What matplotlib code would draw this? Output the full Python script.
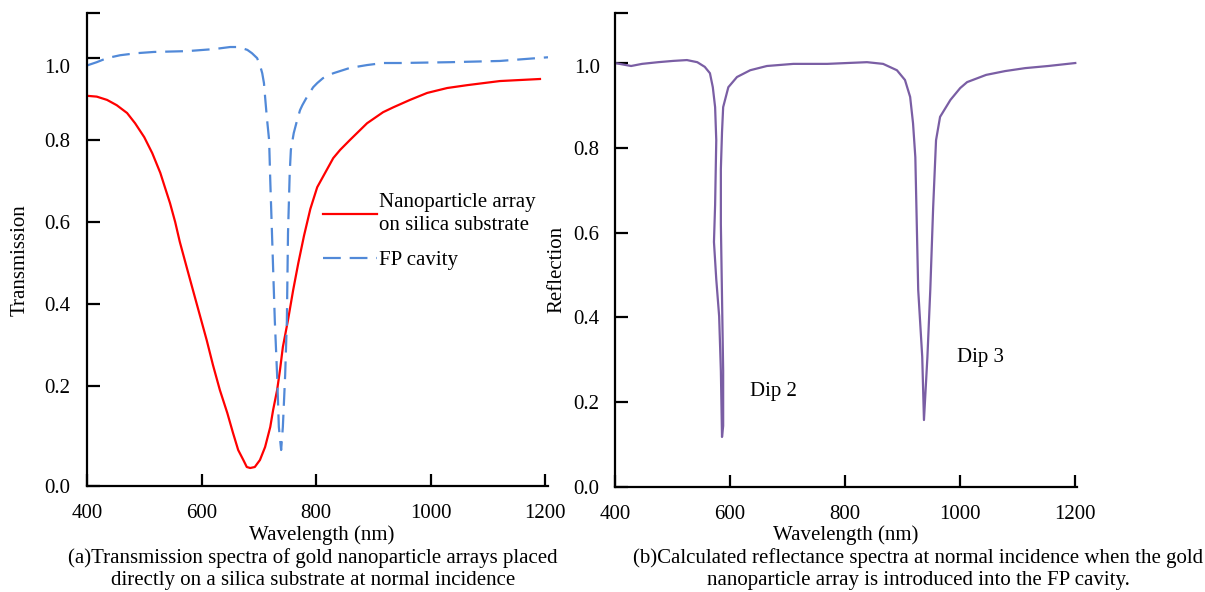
import numpy as np
import matplotlib
matplotlib.use("Agg")
import matplotlib.pyplot as plt
from matplotlib.transforms import ScaledTranslation

plt.rcParams['font.family'] = ['Liberation Serif', 'DejaVu Serif']

# ---------------- data: panel (a) ----------------
wl_np = [400, 417, 435, 452, 470, 484, 500, 514, 528, 536, 545, 554, 562, 575,
         585, 597, 609, 620, 632, 645, 655, 664, 673, 679, 685, 693, 702, 711,
         720, 725, 732, 737, 742, 751, 760, 769, 779, 790, 802, 830, 842, 859,
         889, 917, 935, 964, 994, 1029, 1064, 1121, 1191]
T_np = [0.908, 0.906, 0.898, 0.885, 0.866, 0.841, 0.807, 0.768, 0.72, 0.685,
        0.646, 0.60, 0.552, 0.485, 0.434, 0.373, 0.312, 0.251, 0.192, 0.146,
        0.106, 0.072, 0.052, 0.038, 0.036, 0.038, 0.052, 0.078, 0.118, 0.152,
        0.192, 0.239, 0.295, 0.361, 0.434, 0.50, 0.567, 0.632, 0.685, 0.756,
        0.776, 0.80, 0.841, 0.868, 0.88, 0.898, 0.915, 0.927, 0.934, 0.944,
        0.949]

wl_fp = [400, 417, 435, 458, 487, 517, 575, 622, 650, 665, 680, 688, 697, 702,
         706, 709, 711, 714, 718, 720, 723, 728, 732, 735, 739, 742, 746, 749,
         751, 754, 756, 761, 767, 772, 776, 784, 795, 802, 812, 830, 859, 889,
         917, 947, 1034, 1121, 1205]
T_fp = [0.982, 0.99, 1.0, 1.007, 1.012, 1.015, 1.017, 1.022, 1.027, 1.027,
        1.02, 1.012, 1.0, 0.983, 0.963, 0.939, 0.905, 0.856, 0.80, 0.702,
        0.573, 0.358, 0.226, 0.118, 0.072, 0.118, 0.226, 0.358, 0.573, 0.72,
        0.776, 0.817, 0.849, 0.873, 0.885, 0.905, 0.929, 0.939, 0.951, 0.963,
        0.976, 0.983, 0.988, 0.988, 0.99, 0.993, 1.002]

# ---------------- data: panel (b) ----------------
wl_r = [400, 428, 447, 475, 501, 525, 543, 556, 565, 570, 574, 576, 574, 572,
        576, 581, 584, 586, 588, 588, 586, 584, 584, 586, 588, 597, 612, 635,
        664, 710, 769, 803, 838, 866, 890, 904, 913, 918, 922, 927, 934, 937,
        943, 948, 953, 958, 965, 983, 1000, 1012, 1045, 1078, 1113, 1153, 1200]
R = [1.0, 0.993, 0.998, 1.002, 1.005, 1.007, 1.002, 0.991, 0.976, 0.943,
     0.896, 0.818, 0.665, 0.578, 0.49, 0.403, 0.274, 0.118, 0.144, 0.274,
     0.448, 0.62, 0.75, 0.837, 0.896, 0.943, 0.967, 0.983, 0.993, 0.998,
     0.998, 1.0, 1.002, 0.998, 0.983, 0.96, 0.92, 0.858, 0.778, 0.465, 0.307,
     0.158, 0.307, 0.465, 0.66, 0.818, 0.873, 0.913, 0.941, 0.955, 0.972,
     0.981, 0.988, 0.993, 1.0]

x_ticks = [400, 600, 800, 1000, 1200]
y_ticks = [0.0, 0.2, 0.4, 0.6, 0.8, 1.0]
y_ticklabels = ['0.0', '0.2', '0.4', '0.6', '0.8', '1.0']

legend_labels = ['Nanoparticle array\non silica substrate', 'FP cavity']
dip_labels = ['Dip 2', 'Dip 3']
dip_pos = [(675, 0.226), (1035, 0.306)]
captions = ['(a)Transmission spectra of gold nanoparticle arrays placed\ndirectly on a silica substrate at normal incidence',
            '(b)Calculated reflectance spectra at normal incidence when the gold\nnanoparticle array is introduced into the FP cavity.']

RED = '#FF0000'
BLUE = '#5189D8'
PURPLE = '#7A5EA4'
FS = 15

# the left panel's vertical axis is stretched below 0.2 in the original
def fwd(v):
    v = np.asarray(v, dtype=float)
    return np.where(v < 0.2, v * 5.0, 1.0 + (v - 0.2) * 4.1)

def inv(u):
    u = np.asarray(u, dtype=float)
    return np.where(u < 1.0, u / 5.0, 0.2 + (u - 1.0) / 4.1)

fig = plt.figure(figsize=(12.05, 5.92), dpi=100)
axa = fig.add_axes([87/1205, 1-486/592, (548-87)/1205, (486-13)/592])
axb = fig.add_axes([615/1205, 1-487/592, (1077-615)/1205, (487-13)/592])

def style(ax, ypad):
    for s in ['top', 'right']:
        ax.spines[s].set_visible(False)
    for s in ['left', 'bottom']:
        ax.spines[s].set_linewidth(1.6)
        ax.spines[s].set_color('black')
    ax.tick_params(axis='both', direction='in', length=9, width=1.6,
                   labelsize=FS, colors='black')
    ax.tick_params(axis='x', pad=13)
    ax.tick_params(axis='y', pad=ypad)
    ax.set_xticks(x_ticks)

# ---- panel (a)
axa.set_yscale('function', functions=(fwd, inv))
axa.plot(wl_np, T_np, color=RED, lw=1.6, label=legend_labels[0])
axa.plot(wl_fp, T_fp, color=BLUE, lw=1.6, dashes=(8, 4), label=legend_labels[1])
axa.set_xlim(400, 1205)
axa.set_ylim(0, 1.11)
style(axa, 12)
axa.set_yticks(y_ticks + [1.11])
axa.set_yticklabels(y_ticklabels + [''])
axa.set_ylabel('Transmission', fontsize=FS, va='center')
axa.yaxis.set_label_coords(-0.145, 0.478)
axa.set_xlabel('Wavelength (nm)', fontsize=FS, va='center')
axa.xaxis.set_label_coords(0.508, -0.103)
leg = axa.legend(loc='upper left', bbox_to_anchor=(0.512, 0.62), frameon=False,
                 fontsize=FS, handlelength=2.6, handletextpad=0.1,
                 borderpad=0, borderaxespad=0, labelspacing=0.75)
for t in leg.get_texts():
    t.set_linespacing(1.3)

# ---- panel (b)
axb.plot(wl_r, R, color=PURPLE, lw=1.6)
axb.set_xlim(400, 1203)
axb.set_ylim(0, 1.118)
style(axb, 11)
axb.set_yticks(y_ticks + [1.118])
axb.set_yticklabels(y_ticklabels + [''])
axb.set_ylabel('Reflection', fontsize=FS, va='center')
axb.yaxis.set_label_coords(-0.1255, 0.458)
axb.set_xlabel('Wavelength (nm)', fontsize=FS, va='center')
axb.xaxis.set_label_coords(0.5, -0.101)
for lab, (x, y) in zip(dip_labels, dip_pos):
    axb.text(x, y, lab, fontsize=FS, ha='center', va='center')

# the "1.0" labels sit a little below their ticks in the original
for ax, dy in ((axa, 8), (axb, 3)):
    lbl = ax.yaxis.get_major_ticks()[5].label1
    lbl.set_transform(lbl.get_transform() +
                      ScaledTranslation(0, -dy / 100, fig.dpi_scale_trans))

fig.text(313/1205, 1-569/592, captions[0], ha='center', va='center',
         fontsize=FS, linespacing=1.2)
fig.text(918/1205, 1-569/592, captions[1], ha='center', va='center',
         fontsize=FS, linespacing=1.2)

fig.savefig('out.png', dpi=100)
